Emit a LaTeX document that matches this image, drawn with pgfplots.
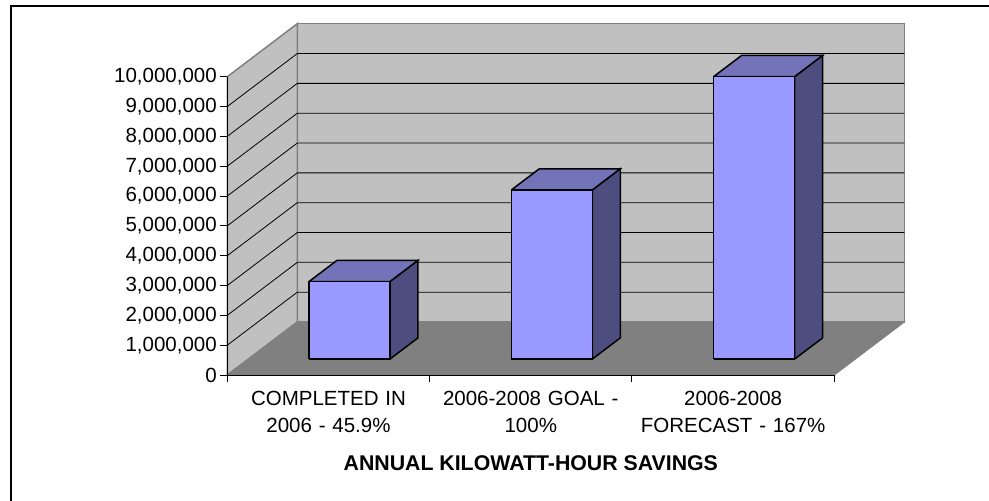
\documentclass[border=0pt]{standalone}
\usepackage{pgfplots}
\usepackage{fontspec}
\setmainfont{Liberation Sans}
\pgfplotsset{compat=1.18}
\definecolor{wallc}{HTML}{C0C0C0}
\definecolor{floorc}{HTML}{808080}
\definecolor{frontc}{HTML}{9999FF}
\definecolor{topc}{HTML}{7373B9}
\definecolor{sidec}{HTML}{4D4D80}
% one 3D column: x from #1 to #2, height #3 (millions of kWh)
\newcommand{\kwhbar}[3]{%
  \addplot3[fill=sidec,draw=black,line width=1.5pt] coordinates {(#2,0.3,0) (#2,0.7,0) (#2,0.7,#3) (#2,0.3,#3) (#2,0.3,0)};
  \addplot3[fill=topc,draw=black,line width=1.5pt] coordinates {(#1,0.3,#3) (#2,0.3,#3) (#2,0.7,#3) (#1,0.7,#3) (#1,0.3,#3)};
  \addplot3[fill=frontc,draw=black,line width=1.5pt] coordinates {(#1,0.3,0) (#2,0.3,0) (#2,0.3,#3) (#1,0.3,#3) (#1,0.3,0)};
}
\newcommand{\gridk}[1]{%
  \addplot3[black,line width=0.8pt] coordinates {(0,0,#1) (0,1,#1) (3,1,#1)};
}
\begin{document}
\begin{tikzpicture}
\path[use as bounding box] (0pt,0pt) rectangle (989pt,-501pt);
\draw[black,line width=2pt] (10.5pt,-501pt) -- (10.5pt,-5.5pt) -- (989pt,-5.5pt);
\begin{axis}[
    at={(227.3pt,-375pt)}, anchor=origin,
    x={(202.33pt,0pt)}, y={(70pt,53pt)}, z={(0pt,29.83pt)},
    xmin=0, xmax=3, ymin=0, ymax=1, zmin=0, zmax=10,
    clip=false, axis on top,
    axis lines=left,
    axis line style={-,black,line width=1pt},
    y axis line style={draw=none},
    xtick={0.5,1.5,2.5},
    xticklabels={{COMPLETED IN\\2006 - 45.9\%},{2006-2008 GOAL -\\100\%},{2006-2008\\FORECAST - 167\%}},
    ytick=\empty,
    ztick={0,1,...,10},
    zticklabels={0,{1,000,000},{2,000,000},{3,000,000},{4,000,000},{5,000,000},{6,000,000},{7,000,000},{8,000,000},{9,000,000},{10,000,000}},
    major tick length=0pt,
    x tick style={draw=none}, z tick style={draw=none},
    tick label style={font=\fontsize{20.5pt}{27pt}\selectfont},
    zticklabel style={anchor=east,xshift=-7pt},
    xticklabel style={anchor=north,align=center,text width=200pt,yshift=-12.5pt},
    xlabel={\textbf{ANNUAL KILOWATT-HOUR SAVINGS}},
    xlabel style={font=\fontsize{21.3pt}{24pt}\selectfont,at={(axis cs:1.5,0,0)},anchor=center,yshift=-88pt},
]
% walls and floor
\addplot3[fill=wallc,draw=floorc,line width=1.5pt] coordinates {(0,1,0) (3,1,0) (3,1,10) (0,1,10) (0,1,0)};
\addplot3[fill=wallc,draw=floorc,line width=1.5pt] coordinates {(0,0,0) (0,1,0) (0,1,10) (0,0,10) (0,0,0)};
\gridk{1}\gridk{2}\gridk{3}\gridk{4}\gridk{5}\gridk{6}\gridk{7}\gridk{8}\gridk{9}
\addplot3[fill=floorc,draw=floorc,line width=1pt] coordinates {(0,0,0) (3,0,0) (3,1,0) (0,1,0) (0,0,0)};
% columns
\kwhbar{0.3}{0.7}{2.6}
\kwhbar{1.3}{1.7}{5.67}
\kwhbar{2.3}{2.7}{9.47}
% tick marks, kept square to the page
\pgfplotsinvokeforeach{0,...,10}{\draw[black,line width=1pt] (axis cs:0,0,#1) -- ++(-7pt,0pt);}
\pgfplotsinvokeforeach{0,1,2,3}{\draw[black,line width=1pt] (axis cs:#1,0,0) -- ++(0pt,-7pt);}
\end{axis}
\end{tikzpicture}
\end{document}
